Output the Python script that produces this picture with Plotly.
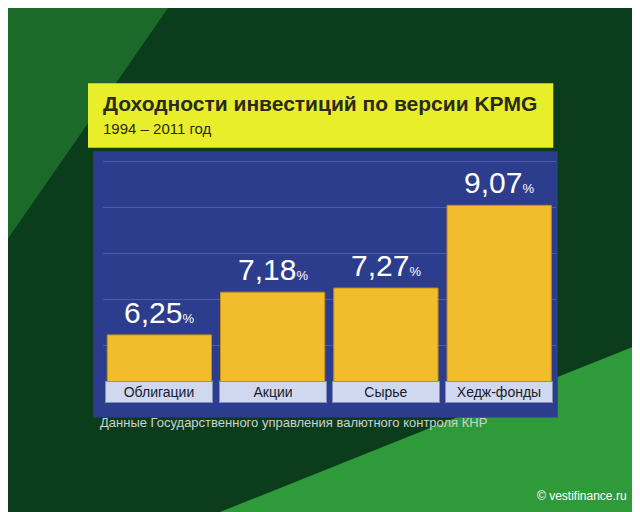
import plotly.graph_objects as go

categories = ["Облигации", "Акции", "Сырье", "Хедж-фонды"]
values = [6.25, 7.18, 7.27, 9.07]
labels = ["6,25", "7,18", "7,27", "9,07"]

fig = go.Figure()
fig.add_trace(go.Bar(x=categories, y=values, base=0, marker=dict(color="#f2bd2c", line=dict(color="#c98f10", width=1)),
                     width=0.92, hoverinfo="skip"))
for c, v, l in zip(categories, values, labels):
    fig.add_annotation(x=c, y=v, yshift=4, yanchor="bottom", showarrow=False,
                       text=f"{l}<span style='font-size:13px'>%</span>",
                       font=dict(family="Liberation Sans", size=30, color="white"))
    fig.add_annotation(x=c, y=0, yref="y domain", yshift=-12, showarrow=False, text=c,
                       width=104, height=18, bgcolor="#cfd8ee", bordercolor="#8090c0",
                       font=dict(family="Liberation Sans", size=14, color="#1a1a2a"))

shapes = [
    dict(type="rect", xref="paper", yref="paper", x0=0, x1=1, y0=0, y1=1, fillcolor="#0b3d1c", line_width=0, layer="below"),
    dict(type="path", xref="paper", yref="paper", path="M 0.3 0 L 1 0.35 L 1 0 Z", fillcolor="#2f9a3a", line_width=0, layer="below"),
    dict(type="path", xref="paper", yref="paper", path="M 0 0.55 L 0.25 1 L 0 1 Z", fillcolor="#1c6a2a", line_width=0, layer="below"),
    dict(type="rect", xref="paper", yref="paper", x0=0.133, x1=0.859, y0=0.2, y1=0.72, fillcolor="#2b3d8c", line_width=0, layer="below"),
    dict(type="rect", xref="paper", yref="paper", x0=0.125, x1=0.852, y0=0.727, y1=0.853, fillcolor="#e8ef2a", line_width=0, layer="below"),
]
fig.update_layout(
    width=640, height=512, margin=dict(l=0, r=0, t=0, b=0), showlegend=False,
    paper_bgcolor="#0b3d1c", plot_bgcolor="rgba(0,0,0,0)", shapes=shapes, bargap=0.08,
    xaxis=dict(domain=[0.148, 0.856], showticklabels=False, showgrid=False, zeroline=False),
    yaxis=dict(domain=[0.252, 0.707], range=[5.03, 10.1], showticklabels=False,
               gridcolor="#4a5ca8", dtick=1, tick0=5.03, zeroline=False),
)
fig.add_annotation(xref="paper", yref="paper", x=0.145, y=0.84, xanchor="left", yanchor="top", showarrow=False,
                   text="<b>Доходности инвестиций по версии KPMG</b>", font=dict(family="Liberation Sans", size=21, color="#2a2a1a"))
fig.add_annotation(xref="paper", yref="paper", x=0.145, y=0.785, xanchor="left", yanchor="top", showarrow=False,
                   text="1994 – 2011 год", font=dict(family="Liberation Sans", size=15, color="#2a2a1a"))
fig.add_annotation(xref="paper", yref="paper", x=0.14, y=0.19, xanchor="left", yanchor="middle", showarrow=False,
                   text="Данные Государственного управления валютного контроля КНР", font=dict(family="Liberation Sans", size=13, color="#d0d0d0"))
fig.add_annotation(xref="paper", yref="paper", x=0.97, y=0.03, xanchor="right", yanchor="bottom", showarrow=False,
                   text="© vestifinance.ru", font=dict(family="Liberation Sans", size=12, color="white"))
fig.write_html("out.html")
